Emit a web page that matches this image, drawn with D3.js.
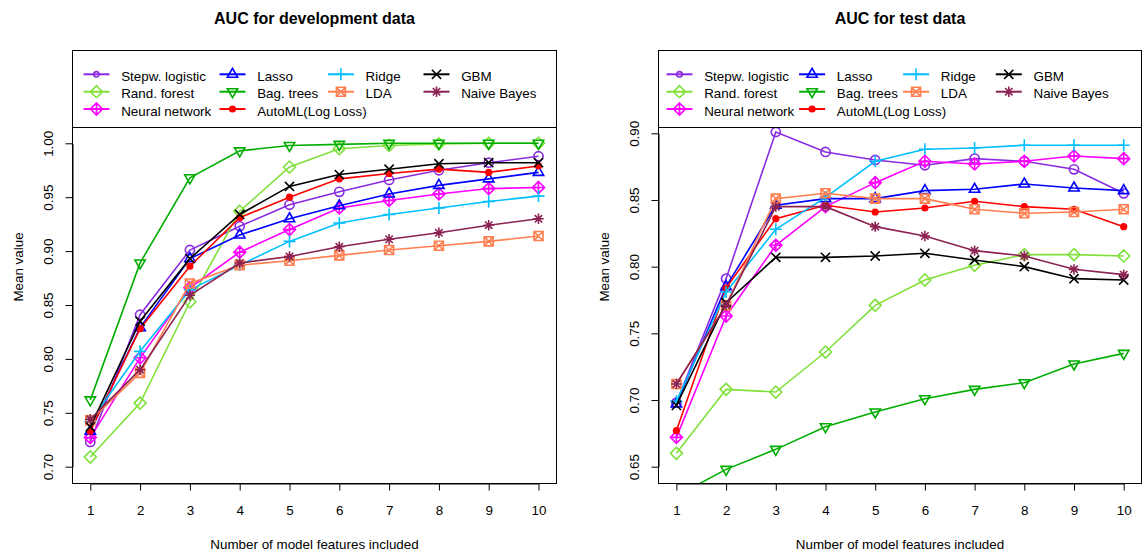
<!DOCTYPE html>
<html>
<head>
<meta charset="utf-8">
<script src="https://cdn.jsdelivr.net/npm/d3@7"></script>
<style>
  body { margin: 0; background: #ffffff; }
  svg { display: block; font-family: "Liberation Sans", Arial, Helvetica, sans-serif; }
</style>
</head>
<body>
<svg id="chart" width="1146" height="551"></svg>
<script>
'use strict';

// ---- data ----
var features = [1, 2, 3, 4, 5, 6, 7, 8, 9, 10];
var seriesNames = ['Stepw. logistic', 'Rand. forest', 'Neural network', 'Lasso', 'Bag. trees',
  'AutoML(Log Loss)', 'Ridge', 'LDA', 'GBM', 'Naive Bayes'];

// development data
var devStepw       = [0.723, 0.841, 0.901, 0.923, 0.943, 0.955, 0.966, 0.975, 0.982, 0.988];
var devRandForest  = [0.709, 0.759, 0.853, 0.937, 0.978, 0.995, 0.998, 0.9995, 1.000, 1.000];
var devNeural      = [0.727, 0.801, 0.866, 0.899, 0.920, 0.940, 0.947, 0.953, 0.958, 0.959];
var devLasso       = [0.733, 0.829, 0.893, 0.915, 0.930, 0.942, 0.953, 0.961, 0.967, 0.973];
var devBagTrees    = [0.762, 0.889, 0.968, 0.993, 0.998, 0.999, 1.000, 1.000, 1.000, 1.000];
var devAutoML      = [0.733, 0.828, 0.886, 0.931, 0.950, 0.967, 0.972, 0.976, 0.973, 0.979];
var devRidge       = [0.742, 0.807, 0.864, 0.887, 0.909, 0.926, 0.934, 0.940, 0.946, 0.951];
var devLDA         = [0.743, 0.787, 0.870, 0.887, 0.891, 0.896, 0.901, 0.905, 0.909, 0.914];
var devGBM         = [0.737, 0.835, 0.893, 0.934, 0.960, 0.971, 0.976, 0.981, 0.982, 0.982];
var devNaiveBayes  = [0.744, 0.790, 0.859, 0.889, 0.895, 0.904, 0.911, 0.917, 0.924, 0.930];

// test data
var testStepw      = [0.698, 0.791, 0.901, 0.886, 0.880, 0.876, 0.881, 0.879, 0.873, 0.855];
var testRandForest = [0.660, 0.708, 0.706, 0.736, 0.771, 0.790, 0.801, 0.809, 0.809, 0.808];
var testNeural     = [0.672, 0.763, 0.816, 0.845, 0.863, 0.879, 0.877, 0.879, 0.883, 0.881];
var testLasso      = [0.697, 0.785, 0.846, 0.851, 0.851, 0.857, 0.858, 0.862, 0.859, 0.857];
var testBagTrees   = [0.628, 0.648, 0.663, 0.680, 0.691, 0.701, 0.708, 0.713, 0.727, 0.735];
var testAutoML     = [0.677, 0.784, 0.836, 0.846, 0.841, 0.844, 0.849, 0.845, 0.843, 0.830];
var testRidge      = [0.699, 0.781, 0.828, 0.852, 0.879, 0.888, 0.889, 0.891, 0.891, 0.891];
var testLDA        = [0.712, 0.771, 0.851, 0.855, 0.851, 0.851, 0.843, 0.840, 0.841, 0.843];
var testGBM        = [0.696, 0.773, 0.807, 0.807, 0.808, 0.810, 0.805, 0.800, 0.791, 0.790];
var testNaiveBayes = [0.712, 0.771, 0.845, 0.845, 0.830, 0.823, 0.812, 0.808, 0.798, 0.794];

var devTicks  = [0.70, 0.75, 0.80, 0.85, 0.90, 0.95, 1.00];
var testTicks = [0.65, 0.70, 0.75, 0.80, 0.85, 0.90];

var devValues  = [devStepw, devRandForest, devNeural, devLasso, devBagTrees,
  devAutoML, devRidge, devLDA, devGBM, devNaiveBayes];
var testValues = [testStepw, testRandForest, testNeural, testLasso, testBagTrees,
  testAutoML, testRidge, testLDA, testGBM, testNaiveBayes];

// ---- style ----
var colors = ['#8A2BE2', '#7FE03A', '#FF00FF', '#0000FF', '#00AD00',
  '#FF0000', '#00BFFF', '#FF7F50', '#000000', '#8B2252'];
var shapes = ['circle', 'diamond', 'diamondPlus', 'triUp', 'triDown',
  'dot', 'plus', 'squareX', 'cross', 'star'];
var legendCol = [0, 0, 0, 1, 1, 1, 2, 2, 3, 3];
var legendRow = [0, 1, 2, 0, 1, 2, 0, 1, 0, 1];
var legendRowY = [74.3, 91.7, 109];

var svg = d3.select('#chart');
var fontSize = 13.4;

function circlePath(cx, cy, r) {
  return 'M' + (cx - r) + ',' + cy + 'a' + r + ',' + r + ' 0 1,0 ' + (2 * r) + ',0' +
    'a' + r + ',' + r + ' 0 1,0 ' + (-2 * r) + ',0Z';
}
function plusPath(cx, cy, h) {
  return 'M' + (cx - h) + ',' + cy + 'H' + (cx + h) + 'M' + cx + ',' + (cy - h) + 'V' + (cy + h);
}
function crossPath(cx, cy, h) {
  return 'M' + (cx - h) + ',' + (cy - h) + 'L' + (cx + h) + ',' + (cy + h) +
    'M' + (cx - h) + ',' + (cy + h) + 'L' + (cx + h) + ',' + (cy - h);
}
function diamondPath(cx, cy, h) {
  return 'M' + cx + ',' + (cy - h) + 'L' + (cx + h) + ',' + cy + 'L' + cx + ',' + (cy + h) +
    'L' + (cx - h) + ',' + cy + 'Z';
}

function markerPath(shape, cx, cy, small) {
  var R = 6, s = 0.866;
  switch (shape) {
    case 'circle': return circlePath(cx, cy, small ? 2.7 : 4.6);
    case 'dot': return circlePath(cx, cy, 3.6);
    case 'triUp':
      return 'M' + cx + ',' + (cy - R) + 'L' + (cx + R * s) + ',' + (cy + R / 2) +
        'L' + (cx - R * s) + ',' + (cy + R / 2) + 'Z';
    case 'triDown':
      return 'M' + cx + ',' + (cy + R) + 'L' + (cx + R * s) + ',' + (cy - R / 2) +
        'L' + (cx - R * s) + ',' + (cy - R / 2) + 'Z';
    case 'plus': return plusPath(cx, cy, 6);
    case 'cross': return crossPath(cx, cy, 4.6);
    case 'diamond': return diamondPath(cx, cy, 6);
    case 'diamondPlus': return diamondPath(cx, cy, 6) + plusPath(cx, cy, 6);
    case 'squareX':
      return 'M' + (cx - 4.5) + ',' + (cy - 4.5) + 'h9v9h-9Z' + crossPath(cx, cy, 4.5);
    case 'star': return plusPath(cx, cy, 5.2) + crossPath(cx, cy, 3.7);
  }
}

function drawPanel(opt) {
  var g = svg.append('g');
  var x = d3.scaleLinear().domain([1, 10]).range([opt.x1, opt.x10]);
  var y = d3.scaleLinear()
    .domain([opt.ticks[0], opt.ticks[opt.ticks.length - 1]])
    .range([opt.yLow, opt.yHigh]);

  var clipId = 'clip-' + opt.id;
  g.append('clipPath').attr('id', clipId)
    .append('rect')
    .attr('x', opt.left).attr('y', opt.top)
    .attr('width', opt.right - opt.left).attr('height', opt.bottom - opt.top);

  var plot = g.append('g').attr('clip-path', 'url(#' + clipId + ')');
  var line = d3.line().x(function(d, i) { return x(features[i]); }).y(function(d) { return y(d); });

  opt.values.forEach(function(vals, k) {
    var sg = plot.append('g');
    sg.append('path')
      .attr('d', line(vals))
      .attr('fill', 'none')
      .attr('stroke', colors[k])
      .attr('stroke-width', 1.6);
    sg.selectAll('path.pt')
      .data(vals)
      .enter()
      .append('path')
      .attr('class', 'pt')
      .attr('d', function(d, i) { return markerPath(shapes[k], x(features[i]), y(d), false); })
      .attr('fill', shapes[k] === 'dot' ? colors[k] : 'none')
      .attr('stroke', shapes[k] === 'dot' ? 'none' : colors[k])
      .attr('stroke-width', 1.6);
  });

  // axes
  var xAxis = d3.axisBottom(x).tickValues(features).tickSize(7).tickSizeOuter(0)
    .tickFormat(d3.format('d'));
  var xg = g.append('g').attr('transform', 'translate(0,' + opt.bottom + ')').call(xAxis);
  xg.attr('font-size', fontSize).attr('font-family', null);
  xg.selectAll('text').attr('y', 31.5).attr('dy', null).attr('fill', '#000');

  var yAxis = d3.axisLeft(y).tickValues(opt.ticks).tickSize(7).tickSizeOuter(0)
    .tickFormat(d3.format('.2f'));
  var yg = g.append('g').attr('transform', 'translate(' + opt.left + ',0)').call(yAxis);
  yg.attr('font-size', fontSize).attr('font-family', null);
  yg.selectAll('text')
    .attr('x', null).attr('dy', null)
    .attr('text-anchor', 'middle')
    .attr('transform', 'translate(-19.2,0) rotate(-90)')
    .attr('fill', '#000');

  // legend
  var lg = g.append('g');
  lg.append('rect')
    .attr('x', opt.left).attr('y', opt.top)
    .attr('width', opt.right - opt.left).attr('height', opt.legendBottom - opt.top)
    .attr('fill', '#fff').attr('stroke', '#000').attr('stroke-width', 1);
  seriesNames.forEach(function(name, k) {
    var lx = opt.left + opt.legendCols[legendCol[k]];
    var ly = legendRowY[legendRow[k]];
    lg.append('line')
      .attr('x1', lx).attr('x2', lx + 26).attr('y1', ly).attr('y2', ly)
      .attr('stroke', colors[k]).attr('stroke-width', 2);
    lg.append('path')
      .attr('d', markerPath(shapes[k], lx + 13, ly, true))
      .attr('fill', shapes[k] === 'dot' ? colors[k] : 'none')
      .attr('stroke', shapes[k] === 'dot' ? 'none' : colors[k])
      .attr('stroke-width', 1.6);
    lg.append('text')
      .attr('x', lx + 37.7).attr('y', ly + 6.5)
      .attr('font-size', fontSize)
      .text(name);
  });

  // box
  g.append('rect')
    .attr('x', opt.left).attr('y', opt.top)
    .attr('width', opt.right - opt.left).attr('height', opt.bottom - opt.top)
    .attr('fill', 'none').attr('stroke', '#000').attr('stroke-width', 1);

  // titles
  var cx = (opt.left + opt.right) / 2;
  g.append('text')
    .attr('x', cx).attr('y', 23.5)
    .attr('text-anchor', 'middle')
    .attr('font-size', 16).attr('font-weight', 'bold')
    .text(opt.title);
  g.append('text')
    .attr('x', cx).attr('y', 548.5)
    .attr('text-anchor', 'middle')
    .attr('font-size', fontSize)
    .text('Number of model features included');
  g.append('text')
    .attr('transform', 'translate(' + (opt.left - 49.5) + ',' + ((opt.top + opt.bottom) / 2) + ') rotate(-90)')
    .attr('text-anchor', 'middle')
    .attr('font-size', fontSize)
    .text('Mean value');
}

drawPanel({
  id: 'dev', title: 'AUC for development data', values: devValues, ticks: devTicks,
  left: 72.5, right: 556.5, top: 50.5, bottom: 483.5, legendBottom: 127.5,
  x1: 90.3, x10: 538.5, yLow: 466.7, yHigh: 143.3,
  legendCols: [11, 147, 255.4, 351]
});
drawPanel({
  id: 'test', title: 'AUC for test data', values: testValues, ticks: testTicks,
  left: 658.5, right: 1141.5, top: 50.5, bottom: 483.5, legendBottom: 127.5,
  x1: 676.4, x10: 1123.7, yLow: 466.7, yHigh: 133.3,
  legendCols: [8, 140.6, 244.6, 337.3]
});
</script>
</body>
</html>
